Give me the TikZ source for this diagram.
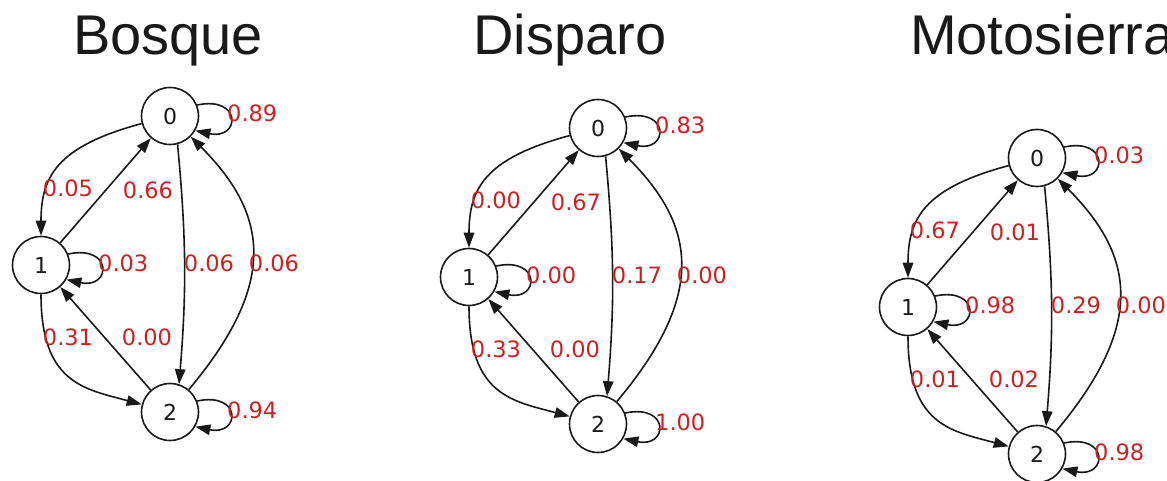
\documentclass[tikz,border=0pt]{standalone}
\usepackage{fontspec}
\setmainfont{DejaVu Sans}
\newfontfamily\titlefont{Liberation Sans}
\usetikzlibrary{arrows.meta}
\definecolor{probred}{RGB}{205,32,32}
\definecolor{ink}{RGB}{25,25,25}
\tikzset{
  markovstate/.style={circle, draw=ink, line width=1.6pt, minimum size=57pt,
    inner sep=0pt, font=\fontsize{22}{22}\selectfont, text=ink},
  trans/.style={draw=ink, line width=1.6pt, -{Triangle[length=15pt,width=10.5pt]}},
  prob/.style={text=probred, font=\fontsize{22.5}{22.5}\selectfont, inner sep=0pt},
  heading/.style={font=\titlefont\fontsize{56}{56}\selectfont, text=ink,
    inner sep=0pt},
}
% Three-state Markov chain; arguments are the transition probabilities
% #1 p00, #2 p01, #3 p10, #4 p11, #5 p12, #6 p21, #7 p02, #8 p20, #9 p22
\newcommand\chainplot[9]{%
  \node[markovstate] (n0) at (129,149) {0};
  \node[markovstate] (n1) at (0,0) {1};
  \node[markovstate] (n2) at (129,-147) {2};
  % self loops
  \draw[trans] (n0.22) .. controls +(12:46) and +(-12:46) .. (n0.-30);
  \draw[trans] (n1.22) .. controls +(12:46) and +(-12:46) .. (n1.-30);
  \draw[trans] (n2.22) .. controls +(12:46) and +(-12:46) .. (n2.-30);
  % transitions between states
  \draw[trans] (n0) to[out=195,in=90,looseness=1.3] (n1);
  \draw[trans] (n1) -- (n0);
  \draw[trans] (n1) to[out=-90,in=165,looseness=1.3] (n2);
  \draw[trans] (n2) -- (n1);
  \draw[trans] (n0.-75) to[bend left=5] (n2.72);
  \draw[trans] (n2) to[out=50,in=-45,looseness=1.3] (n0);
  % probabilities
  \node[prob, anchor=west] (l00) at (186,152) {#1};
  \node[prob] (l01) at (27,77) {#2};
  \node[prob] (l10) at (107,75) {#3};
  \node[prob, anchor=west] (l11) at (57,2) {#4};
  \node[prob] (l12) at (27,-72) {#5};
  \node[prob] (l21) at (106,-72) {#6};
  \node[prob] (l02) at (168,2) {#7};
  \node[prob] (l20) at (233,2) {#8};
  \node[prob, anchor=west] (l22) at (186,-145) {#9};
}
\begin{document}
\begin{tikzpicture}[x=1pt,y=1pt]
  \useasboundingbox (0,0) rectangle (1167,481);
  \clip (0,0) rectangle (1167,481);
  \node[heading, anchor=base] (t1) at (168,426) {Bosque};
  \node[heading, anchor=base] (t2) at (570,426) {Disparo};
  \node[heading, anchor=base west] (t3) at (910,426) {Motosierra};
  \begin{scope}[shift={(41,216)}, name prefix=b-]
    \chainplot{0.89}{0.05}{0.66}{0.03}{0.31}{0.00}{0.06}{0.06}{0.94}
  \end{scope}
  \begin{scope}[shift={(469,204)}, name prefix=d-]
    \chainplot{0.83}{0.00}{0.67}{0.00}{0.33}{0.00}{0.17}{0.00}{1.00}
  \end{scope}
  \begin{scope}[shift={(908,174)}, name prefix=m-]
    \chainplot{0.03}{0.67}{0.01}{0.98}{0.01}{0.02}{0.29}{0.00}{0.98}
  \end{scope}
\end{tikzpicture}
\end{document}
